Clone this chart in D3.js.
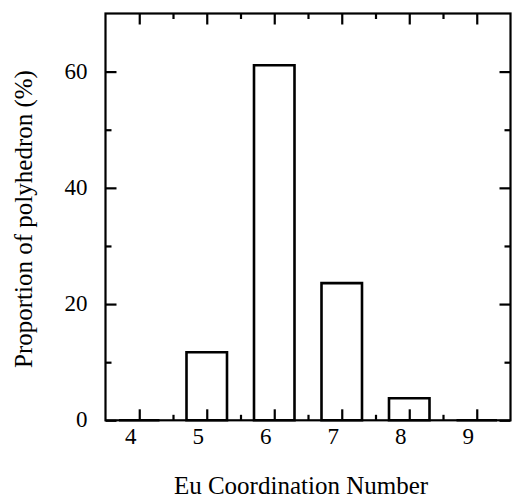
<!DOCTYPE html>
<html>
<head>
<meta charset="utf-8">
<script src="https://cdn.jsdelivr.net/npm/d3@7"></script>
<style>
  body { margin: 0; background: #fff; }
</style>
</head>
<body>
<div id="chart"></div>
<script>
// coordination numbers and share of each polyhedron (%)
var coordNumbers = [4, 5, 6, 7, 8, 9];
var proportions = [0, 11.7, 61.1, 23.6, 3.8, 0];
var yMajorTicks = [0, 20, 40, 60];
var yMinorTicks = [10, 30, 50];
var xMinorTicks = [4.5, 5.5, 6.5, 7.5, 8.5];

var width = 512, height = 498;
var plotLeft = 105.5, plotRight = 510.5, plotTop = 13.5, plotBottom = 420.3;
var barWidth = 0.6;
var serif = "'Liberation Serif', 'Times New Roman', Times, serif";

var svg = d3.select("#chart").append("svg")
    .attr("width", width)
    .attr("height", height)
    .attr("font-family", serif);

var x = d3.scaleLinear().domain([3.5, 9.5]).range([plotLeft, plotRight]);
var y = d3.scaleLinear().domain([0, 70]).range([plotBottom, plotTop]);

// bars, as paths so the empty ones still show a line on the axis
svg.append("g").selectAll("path")
    .data(coordNumbers)
  .enter().append("path")
    .attr("d", function(d, i) {
      var x0 = x(d - barWidth / 2), x1 = x(d + barWidth / 2);
      var y0 = y(0), y1 = y(proportions[i]);
      return "M" + x0 + "," + y0 + "V" + y1 + "H" + x1 + "V" + y0 + "Z";
    })
    .attr("fill", "none")
    .attr("stroke", "#000")
    .attr("stroke-width", 2.6);

function styleAxis(g) {
  g.attr("font-family", serif);
  g.select(".domain").remove();
  g.selectAll("line").attr("stroke", "#000").attr("stroke-width", 2.2);
  g.selectAll("text").attr("font-family", serif).attr("fill", "#000");
}

// bottom
svg.append("g")
    .attr("transform", "translate(0," + plotBottom + ")")
    .call(d3.axisBottom(x).tickValues(coordNumbers).tickSize(-11).tickPadding(7).tickFormat(d3.format("d")))
    .call(styleAxis)
    .selectAll("text")
    .attr("dx", -9)
    .attr("font-size", 23);
svg.append("g")
    .attr("transform", "translate(0," + plotBottom + ")")
    .call(d3.axisBottom(x).tickValues(xMinorTicks).tickSize(-5.5).tickFormat(""))
    .call(styleAxis);

// top
svg.append("g")
    .attr("transform", "translate(0," + plotTop + ")")
    .call(d3.axisTop(x).tickValues(coordNumbers).tickSize(-11).tickFormat(""))
    .call(styleAxis);
svg.append("g")
    .attr("transform", "translate(0," + plotTop + ")")
    .call(d3.axisTop(x).tickValues(xMinorTicks).tickSize(-5.5).tickFormat(""))
    .call(styleAxis);

// left
svg.append("g")
    .attr("transform", "translate(" + plotLeft + ",0)")
    .call(d3.axisLeft(y).tickValues(yMajorTicks).tickSize(-11).tickPadding(18).tickFormat(d3.format("d")))
    .call(styleAxis)
    .selectAll("text")
    .attr("dy", "0.28em")
    .attr("font-size", 23);
svg.append("g")
    .attr("transform", "translate(" + plotLeft + ",0)")
    .call(d3.axisLeft(y).tickValues(yMinorTicks).tickSize(-6).tickFormat(""))
    .call(styleAxis);

// right
svg.append("g")
    .attr("transform", "translate(" + plotRight + ",0)")
    .call(d3.axisRight(y).tickValues(yMajorTicks).tickSize(-11).tickFormat(""))
    .call(styleAxis);
svg.append("g")
    .attr("transform", "translate(" + plotRight + ",0)")
    .call(d3.axisRight(y).tickValues(yMinorTicks).tickSize(-6).tickFormat(""))
    .call(styleAxis);

// frame
svg.append("rect")
    .attr("x", plotLeft)
    .attr("y", plotTop)
    .attr("width", plotRight - plotLeft)
    .attr("height", plotBottom - plotTop)
    .attr("fill", "none")
    .attr("stroke", "#000")
    .attr("stroke-width", 2.2);

// titles
svg.append("text")
    .attr("x", 301)
    .attr("y", 494)
    .attr("text-anchor", "middle")
    .attr("font-size", 25)
    .text("Eu Coordination Number");

svg.append("text")
    .attr("transform", "translate(32,219) rotate(-90)")
    .attr("text-anchor", "middle")
    .attr("font-size", 25)
    .text("Proportion of polyhedron (%)");
</script>
</body>
</html>
